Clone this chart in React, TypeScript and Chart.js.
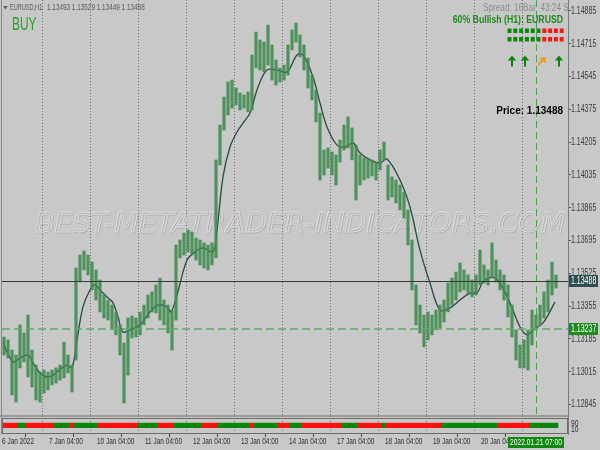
import React, { useEffect, useRef } from "react";
import { Chart, registerables } from "chart.js";

Chart.register(...registerables);

// ---- Data (EURUSD H1, one entry per two hourly bars) ----
const highs = [
  1.13195, 1.1318, 1.13128, 1.13102, 1.13258, 1.13216, 1.13309, 1.13128, 1.1305, 1.13014,
  1.13024, 1.13014, 1.13024, 1.13035, 1.1305, 1.13169, 1.13102, 1.1305, 1.13553, 1.1362,
  1.13641, 1.1362, 1.13584, 1.13543, 1.13491, 1.13413, 1.13387, 1.13361, 1.13325, 1.13258,
  1.13164, 1.13294, 1.13304, 1.13294, 1.13325, 1.13361, 1.13413, 1.13429, 1.13465, 1.13501,
  1.13387, 1.13361, 1.13335, 1.13672, 1.13698, 1.13734, 1.1375, 1.1374, 1.13708, 1.13698,
  1.13683, 1.13672, 1.13683, 1.14113, 1.14294, 1.14439, 1.14517, 1.14527, 1.14486, 1.1446,
  1.1445, 1.14465, 1.14657, 1.14776, 1.14735, 1.14724, 1.14812, 1.14709, 1.14631, 1.1459,
  1.14605, 1.14709, 1.14787, 1.14823, 1.14761, 1.14709, 1.14641, 1.14553, 1.14476, 1.14356,
  1.14165, 1.14175, 1.14154, 1.14139, 1.14216, 1.14294, 1.14336, 1.14279, 1.1419, 1.14139,
  1.14123, 1.14123, 1.14113, 1.14102, 1.14165, 1.14206, 1.14087, 1.14025, 1.14009, 1.13983,
  1.13947, 1.13854, 1.13698, 1.13465, 1.13361, 1.13309, 1.13325, 1.13309, 1.13335, 1.13361,
  1.13387, 1.13475, 1.13501, 1.13532, 1.13579, 1.13543, 1.13517, 1.13491, 1.13517, 1.13646,
  1.13569, 1.13543, 1.13683, 1.13594, 1.13543, 1.13517, 1.13465, 1.13361, 1.13232, 1.13154,
  1.1318, 1.13232, 1.13335, 1.13309, 1.13361, 1.13429, 1.13491, 1.13584, 1.13517,
];
const lows = [
  1.13102, 1.13086, 1.12895, 1.12858, 1.13035, 1.13066, 1.12988, 1.12936, 1.12869, 1.12858,
  1.12905, 1.12921, 1.12947, 1.12957, 1.12972, 1.12983, 1.13009, 1.1291, 1.13076, 1.1348,
  1.13543, 1.13517, 1.13439, 1.13387, 1.13325, 1.13294, 1.13283, 1.13232, 1.13206, 1.13102,
  1.12853, 1.12998, 1.1319, 1.13195, 1.13206, 1.13258, 1.13294, 1.13325, 1.1332, 1.13283,
  1.13258, 1.13216, 1.13128, 1.13283, 1.13605, 1.1362, 1.13636, 1.1362, 1.13594, 1.13569,
  1.13553, 1.13543, 1.13569, 1.13605, 1.14087, 1.14268, 1.14346, 1.14382, 1.14398, 1.14372,
  1.14382, 1.14362, 1.14372, 1.1459, 1.14579, 1.14569, 1.14605, 1.14527, 1.14501, 1.14517,
  1.14527, 1.14553, 1.14683, 1.14724, 1.14647, 1.14579, 1.14486, 1.14424, 1.1431, 1.14009,
  1.14035, 1.14071, 1.14035, 1.13983, 1.14102, 1.14165, 1.14175, 1.14113, 1.13905, 1.13983,
  1.14009, 1.14019, 1.1403, 1.14009, 1.14061, 1.14113, 1.13905, 1.13921, 1.1389, 1.13854,
  1.13812, 1.13672, 1.13439, 1.13258, 1.13216, 1.13144, 1.1318, 1.13206, 1.13232, 1.13242,
  1.13273, 1.13325, 1.13361, 1.13387, 1.13429, 1.13439, 1.13423, 1.13403, 1.13413, 1.13465,
  1.13475, 1.13465, 1.13501, 1.1348, 1.13439, 1.13387, 1.13299, 1.13195, 1.13076, 1.13035,
  1.13035, 1.13024, 1.13154, 1.13232, 1.13258, 1.13294, 1.13325, 1.13413, 1.13449,
];

// Moving average (bar index, value)
const maIndex = [
  -0.25, 2.25, 4, 6, 7.25, 9, 10.75, 12.25, 14.5, 15.75, 17, 18.25, 19.75, 21.5, 22.75, 24,
  25.75, 27.25, 28.5, 29.75, 31.5, 34, 36.5, 38.5, 40.75, 41.75, 43.25, 45.75, 47.75, 49.75,
  52.25, 53.25, 54.75, 56.5, 58.25, 59.75, 61.5, 63.5, 65.75, 68.25, 70.75, 73.25, 74.75,
  77.25, 79, 80.75, 83.25, 85.25, 87.25, 89, 91.5, 94, 95.75, 99, 101.5, 104, 106.5, 109,
  111.5, 114, 116.5, 118.25, 119.75, 122.25, 124, 126.5, 129, 130.75, 132.25, 134.75, 137.75,
];
const maValues = [
  1.13164, 1.13066, 1.13086, 1.13102, 1.13061, 1.13009, 1.12988, 1.12998, 1.13035, 1.1305,
  1.13035, 1.1318, 1.13351, 1.13439, 1.13465, 1.13439, 1.13403, 1.13372, 1.13299, 1.13221,
  1.13232, 1.13258, 1.13325, 1.13361, 1.13351, 1.13325, 1.13413, 1.13594, 1.13636, 1.13657,
  1.13636, 1.1375, 1.14025, 1.1418, 1.14258, 1.14304, 1.14356, 1.14491, 1.14579, 1.14579,
  1.14569, 1.14657, 1.14657, 1.14543, 1.14408, 1.14284, 1.1419, 1.1418, 1.14201, 1.14149,
  1.14113, 1.14097, 1.14118, 1.14009, 1.13869, 1.13646, 1.13475, 1.13335, 1.13346, 1.13387,
  1.13423, 1.13423, 1.1348, 1.13506, 1.13475, 1.13372, 1.13247, 1.13206, 1.13232, 1.13268,
  1.13377,
];

const yTickValues = [
  1.12845, 1.13015, 1.13185, 1.13355, 1.13525, 1.13695, 1.13865, 1.14035, 1.14205, 1.14375,
  1.14545, 1.14715, 1.14885,
];
const timeLabelIdx = [-0.5, 11.25, 23.25, 35.25, 47.25, 59.25, 71.25, 83.25, 95.25, 107.25, 119.25];
const timeLabels = [
  "6 Jan 2022", "7 Jan 04:00", "10 Jan 04:00", "11 Jan 04:00", "12 Jan 04:00", "13 Jan 04:00",
  "14 Jan 04:00", "17 Jan 04:00", "18 Jan 04:00", "19 Jan 04:00", "20 Jan 04:00",
];
const dayGridIdx = [9.5, 21.5, 33.5, 45.5, 57.5, 69.5, 81.5, 93.5, 105.5, 117.5, 129.5];

// Trend sub-window: segment start bar and direction
const trendBreaks = [0, 4, 6, 13, 17, 18, 24, 34, 39, 43, 50, 54, 62, 63, 69, 72, 75, 85, 89, 95, 96, 110, 124, 132];
const trendUp = [
  false, true, false, true, false, true, false, true, false, true, false, true,
  false, true, false, true, false, true, false, true, false, true, false, true,
];
const trendBand = [10, 60];
const trendLevels = [90, 10];

const lastPrice = 1.13488;
const levelPrice = 1.13237;
const markerIdx = 133;
const markerLabel = "2022.01.21 07:00";
const symbolLabel = "EURUSD,H1";
const ohlcLabels = ["1.13493", "1.13529", "1.13449", "1.13488"];
const signalText = "BUY";
const spreadText = "Spread: 16Bar  43:24 S";
const bullishText = "60% Bullish (H1): EURUSD";
const priceText = "Price: 1.13488";
const watermarkText = "BEST-METATRADER-INDICATORS.COM";
const strengthRows = [
  [1, 1, 1, 1, 1, 1, 0, 0, 0, 0],
  [1, 1, 1, 1, 1, 1, 0, 0, 0, 0],
];
const arrowSignals = ["up", "up", "upRight", "up"];

const FONT = '"Liberation Sans", Arial, sans-serif';
const BG = "#c8c8c8";

function drawText(
  ctx: CanvasRenderingContext2D,
  s: string,
  x: number,
  y: number,
  size: number,
  color: string,
  o: { bold?: boolean; align?: CanvasTextAlign; sx?: number; italic?: boolean } = {}
) {
  ctx.save();
  ctx.font = `${o.italic ? "italic " : ""}${o.bold ? "bold " : ""}${size}px ${FONT}`;
  ctx.fillStyle = color;
  ctx.textBaseline = "middle";
  ctx.textAlign = o.align || "left";
  ctx.translate(x, y);
  ctx.scale(o.sx ?? 1, 1);
  ctx.fillText(s, 0, 0);
  ctx.restore();
}

function arrow(ctx: CanvasRenderingContext2D, x: number, y: number, color: string, angle: number) {
  ctx.save();
  ctx.translate(x, y);
  ctx.rotate(angle);
  ctx.fillStyle = color;
  ctx.beginPath();
  ctx.moveTo(0, -5.5);
  ctx.lineTo(4.2, -0.5);
  ctx.lineTo(-4.2, -0.5);
  ctx.closePath();
  ctx.fill();
  ctx.fillRect(-1, -1, 2, 6.5);
  ctx.restore();
}

function trendColor(k: number) {
  let j = 0;
  for (let i = 0; i < trendBreaks.length; i++) if (trendBreaks[i] <= k) j = i;
  return trendUp[j] ? "#0a860a" : "#ff1010";
}

const mt4Plugin = {
  id: "mt4",
  beforeDraw(chart: any) {
    const ctx = chart.ctx;
    ctx.save();
    ctx.fillStyle = BG;
    ctx.fillRect(0, 0, chart.width, chart.height);
    ctx.restore();
  },
  beforeDatasetsDraw(chart: any) {
    const { ctx, scales } = chart;
    const { x, y, y2 } = scales;
    const ca = chart.chartArea;
    ctx.save();
    ctx.strokeStyle = "#6e6e6e";
    ctx.lineWidth = 1;
    ctx.setLineDash([1, 2]);
    for (const g of dayGridIdx) {
      const px = Math.round(x.getPixelForValue(g)) + 0.5;
      ctx.beginPath();
      ctx.moveTo(px, ca.top);
      ctx.lineTo(px, y.bottom);
      ctx.moveTo(px, y2.top + 3);
      ctx.lineTo(px, ca.bottom);
      ctx.stroke();
    }
    ctx.restore();

    // watermark
    ctx.save();
    ctx.beginPath();
    ctx.rect(ca.left, ca.top, ca.right - ca.left, y.bottom - ca.top);
    ctx.clip();
    ctx.font = `italic 27px "DejaVu Sans", sans-serif`;
    const w = ctx.measureText(watermarkText).width;
    const target = 530;
    ctx.translate(35, 232);
    ctx.scale(target / w, 1);
    ctx.lineWidth = 0.8;
    ctx.strokeStyle = "rgba(150,150,150,0.55)";
    ctx.strokeText(watermarkText, 0.8, 0.8);
    ctx.strokeStyle = "rgba(228,228,228,0.75)";
    ctx.strokeText(watermarkText, 0, 0);
    ctx.restore();
  },
  afterDatasetsDraw(chart: any) {
    const { ctx, scales } = chart;
    const { x, y, y2 } = scales;
    const ca = chart.chartArea;
    ctx.save();
    // level line (dashed green)
    const ly = Math.round(y.getPixelForValue(levelPrice));
    ctx.strokeStyle = "rgba(100,170,100,0.75)";
    ctx.lineWidth = 2;
    ctx.setLineDash([8, 4]);
    ctx.beginPath();
    ctx.moveTo(ca.left, ly);
    ctx.lineTo(ca.right, ly);
    ctx.stroke();
    // marker vertical dashed line
    const mx = Math.round(x.getPixelForValue(markerIdx)) + 0.5;
    ctx.strokeStyle = "#4f9f4f";
    ctx.lineWidth = 1;
    ctx.setLineDash([7, 4]);
    ctx.beginPath();
    ctx.moveTo(mx, ca.top);
    ctx.lineTo(mx, y.bottom);
    ctx.stroke();
    ctx.setLineDash([]);
    // last price line
    const py = Math.round(y.getPixelForValue(lastPrice)) + 0.5;
    ctx.strokeStyle = "#383838";
    ctx.lineWidth = 1;
    ctx.beginPath();
    ctx.moveTo(ca.left, py);
    ctx.lineTo(ca.right, py);
    ctx.stroke();

    // separator between panes & sub-window frame
    ctx.fillStyle = BG;
    ctx.fillRect(ca.left, y.bottom, ca.right - ca.left, 3);
    ctx.strokeStyle = "#9a9a9a";
    ctx.lineWidth = 2;
    ctx.beginPath();
    ctx.moveTo(0, y.bottom + 1);
    ctx.lineTo(ca.right, y.bottom + 1);
    ctx.stroke();
    ctx.strokeStyle = "#6c6c6c";
    ctx.lineWidth = 1;
    ctx.strokeRect(ca.left + 0.5, y2.top + 3.5, ca.right - ca.left - 1, ca.bottom - y2.top - 4);
    // left border
    ctx.beginPath();
    ctx.strokeStyle = "#8a8a8a";
    ctx.moveTo(1.5, ca.top);
    ctx.lineTo(1.5, ca.bottom);
    ctx.stroke();
    ctx.restore();

    // ---- texts in main pane ----
    ctx.save();
    ctx.fillStyle = "#606060";
    ctx.beginPath();
    ctx.moveTo(3, 6);
    ctx.lineTo(8, 6);
    ctx.lineTo(5.5, 9.5);
    ctx.closePath();
    ctx.fill();
    ctx.restore();
    drawText(ctx, symbolLabel, 10, 8, 9, "#5a5a5a", { sx: 0.62 });
    drawText(ctx, ohlcLabels.join(" "), 47, 8, 9, "#5a5a5a", { sx: 0.71 });
    drawText(ctx, signalText, 12, 25, 18, "#26a026", { sx: 0.66 });

    ctx.save();
    ctx.beginPath();
    ctx.rect(ca.left, ca.top, ca.right - ca.left, y.bottom);
    ctx.clip();
    drawText(ctx, spreadText, 483, 8, 10, "#8c8c8c", { sx: 0.82 });
    ctx.restore();
    drawText(ctx, bullishText, 563, 20, 10, "#1e8c1e", { bold: true, align: "right", sx: 0.87 });

    // strength squares
    ctx.save();
    strengthRows.forEach((row, r) => {
      row.forEach((v, i) => {
        ctx.fillStyle = v ? "#0c870c" : "#ff1515";
        ctx.fillRect(507.5 + i * 5.8, 28.5 + r * 8.5, 4, 4.5);
      });
    });
    ctx.restore();
    const arrowX = [512, 525, 542, 559];
    arrowSignals.forEach((a, i) => {
      if (a === "up") arrow(ctx, arrowX[i], 61, "#10820f", 0);
      else arrow(ctx, arrowX[i], 61, "#f09a1a", Math.PI / 4);
    });
    drawText(ctx, priceText, 563, 111, 10, "#000", { bold: true, align: "right", sx: 1.0 });
  },
  afterDraw(chart: any) {
    const { ctx, scales } = chart;
    const { x, y, y2 } = scales;
    const ca = chart.chartArea;
    const lx = ca.right + 3;
    // y labels
    for (const v of yTickValues) {
      drawText(ctx, v.toFixed(5), lx, y.getPixelForValue(v), 10, "#3a3a3a", { sx: 0.7 });
    }
    // price boxes
    const box = (v: number, fill: string) => {
      const py = Math.round(y.getPixelForValue(v));
      ctx.save();
      ctx.fillStyle = fill;
      ctx.fillRect(ca.right + 1, py - 6, 29, 12);
      ctx.restore();
      drawText(ctx, v.toFixed(5), lx, py, 10, "#ffffff", { sx: 0.7 });
    };
    box(lastPrice, "#2f4f4f");
    box(levelPrice, "#1d8b1d");
    // sub-window level labels
    drawText(ctx, String(trendLevels[0]), lx, y2.getPixelForValue(trendLevels[0]) + 3, 9, "#333", { sx: 0.75 });
    drawText(ctx, String(trendLevels[1]), lx, y2.getPixelForValue(trendLevels[1]) + 1.5, 9, "#333", { sx: 0.75 });
    // time labels
    timeLabelIdx.forEach((k, i) => {
      drawText(ctx, timeLabels[i], x.getPixelForValue(k), ca.bottom + 8, 9, "#303030", { sx: 0.72 });
    });
    // marker time label
    const mx = x.getPixelForValue(markerIdx);
    ctx.save();
    ctx.fillStyle = "#118811";
    ctx.fillRect(mx - 28, ca.bottom + 3, 56, 11);
    ctx.restore();
    drawText(ctx, markerLabel, mx, ca.bottom + 8.5, 9, "#ffffff", { align: "center", sx: 0.74 });
  },
};

export default function App() {
  const ref = useRef<HTMLCanvasElement>(null);
  useEffect(() => {
    const canvas = ref.current;
    if (!canvas) return;
    const zeroPad = (s: any) => {
      s.paddingTop = 0;
      s.paddingBottom = 0;
      s.paddingLeft = 0;
      s.paddingRight = 0;
    };
    const chart = new Chart(canvas, {
      type: "bar",
      data: {
        datasets: [
          {
            type: "bar",
            label: "trend",
            yAxisID: "y2",
            xAxisID: "x",
            data: highs.map((_, i) => ({ x: i, y: trendBand })),
            backgroundColor: highs.map((_, i) => trendColor(i)),
            borderWidth: 0,
            barPercentage: 1,
            categoryPercentage: 1,
            grouped: false,
          } as any,
          {
            type: "bar",
            label: "EURUSD",
            yAxisID: "y",
            xAxisID: "x",
            data: highs.map((h, i) => ({ x: i, y: [lows[i], h] })),
            backgroundColor: "rgba(62,140,78,0.9)",
            borderWidth: 0,
            barThickness: 2.5,
            grouped: false,
          } as any,
          {
            type: "line",
            label: "MA",
            yAxisID: "y",
            xAxisID: "x",
            data: maIndex.map((k, i) => ({ x: k, y: maValues[i] })),
            borderColor: "#2b4747",
            borderWidth: 1.3,
            pointRadius: 0,
            tension: 0.35,
            fill: false,
          } as any,
        ],
      },
      options: {
        responsive: false,
        animation: false,
        devicePixelRatio: 1,
        events: [],
        layout: { padding: { left: 2, right: 0, top: 0, bottom: 0 } },
        plugins: { legend: { display: false }, tooltip: { enabled: false } },
        scales: {
          x: {
            type: "linear",
            position: "bottom",
            min: -0.5,
            max: 141,
            offset: false,
            bounds: "data",
            grid: { display: true, drawOnChartArea: false, drawTicks: true, tickLength: 3, color: "#444", tickColor: "#444" },
            border: { display: false },
            ticks: { display: false },
            afterBuildTicks: (s: any) => {
              s.ticks = timeLabelIdx.map((v) => ({ value: v }));
            },
            afterFit: (s: any) => {
              s.height = 16;
              zeroPad(s);
            },
          },
          y: {
            type: "linear",
            position: "right",
            stack: "panes",
            stackWeight: 415,
            min: 1.12791,
            max: 1.14942,
            bounds: "data",
            grid: { display: true, drawOnChartArea: false, drawTicks: true, tickLength: 3, color: "#555", tickColor: "#555" },
            border: { display: true, color: "#6f7f7f" },
            ticks: { display: false },
            afterBuildTicks: (s: any) => {
              s.ticks = yTickValues.map((v) => ({ value: v }));
            },
            afterFit: (s: any) => {
              s.width = 32;
              zeroPad(s);
            },
          },
          y2: {
            type: "linear",
            position: "right",
            stack: "panes",
            stackWeight: 19,
            min: -60,
            max: 150,
            bounds: "data",
            grid: { display: false },
            border: { display: true, color: "#6f7f7f" },
            ticks: { display: false },
            afterFit: (s: any) => {
              s.width = 32;
              zeroPad(s);
            },
          },
        },
      } as any,
      plugins: [mt4Plugin],
    });
    return () => chart.destroy();
  }, []);
  return (
    <div style={{ position: "fixed", left: 0, top: 0, width: 600, height: 450 }}>
      <canvas ref={ref} width={600} height={450} style={{ display: "block", width: 600, height: 450 }} />
    </div>
  );
}
